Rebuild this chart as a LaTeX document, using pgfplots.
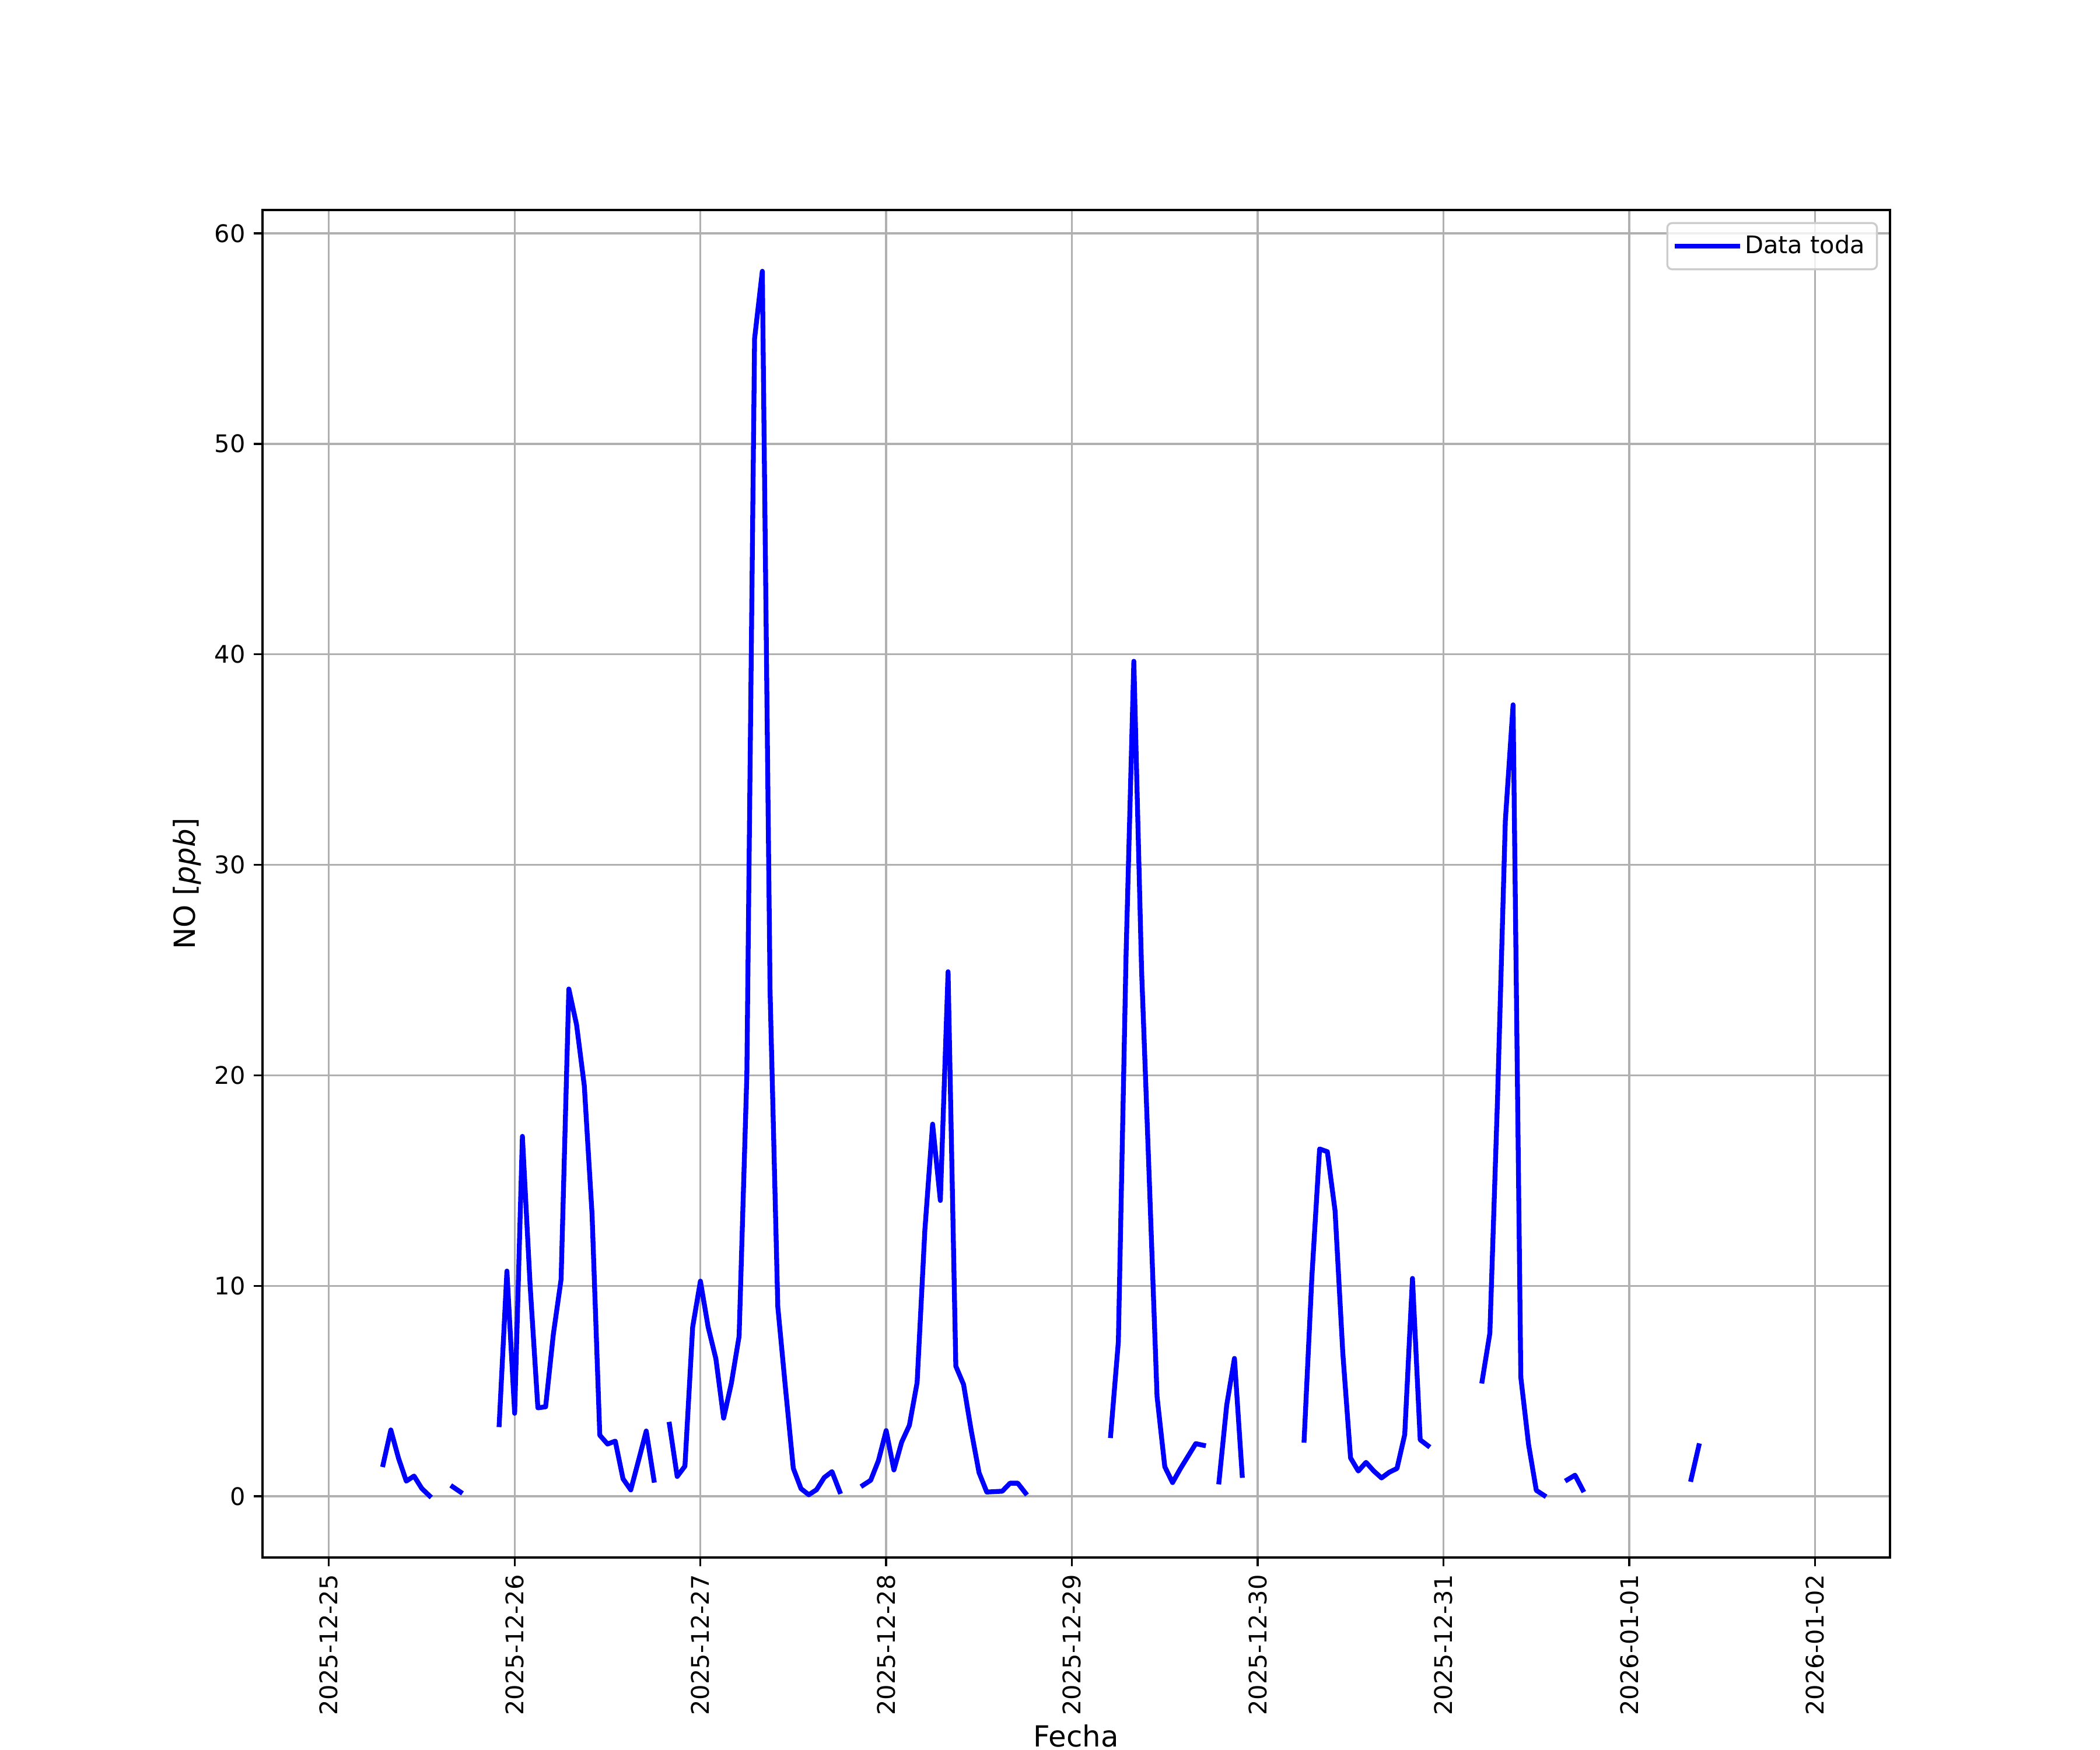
\documentclass[border=0pt]{standalone}
\usepackage{fontspec}
\setmainfont{DejaVu Sans}
\usepackage{pgfplots}
\pgfplotsset{compat=1.18}
\definecolor{gridgray}{HTML}{B0B0B0}
\definecolor{legframe}{HTML}{CCCCCC}
\begin{document}
\begin{tikzpicture}
\begin{axis}[
  name=ax, at={(0,0)}, anchor=south west,
  width=9.3in, height=7.7in, scale only axis,
  xmin=-8.58, xmax=201.7, ymin=-2.91, ymax=61.11,
  xtick={0,24,48,72,96,120,144,168,192},
  xticklabels={2025-12-25,2025-12-26,2025-12-27,2025-12-28,2025-12-29,2025-12-30,2025-12-31,2026-01-01,2026-01-02},
  ytick={0,10,20,30,40,50,60},
  grid=major,
  major grid style={gridgray, line width=0.8pt},
  axis line style={line width=0.8pt},
  tick style={black, line width=0.8pt},
  major tick length=3.5pt,
  tick align=outside,
  tick pos=left,
  unbounded coords=jump,
  /pgf/number format/assume math mode=true,
  tick label style={font=\fontsize{10}{12}\selectfont},
  xticklabel style={rotate=90, anchor=east},
  xlabel={Fecha},
  ylabel={NO [\textit{ppb}]},
  label style={font=\fontsize{12}{14}\selectfont},
  xlabel style={at={(axis description cs:0.5,-0.1325)}, anchor=center},
  ylabel style={at={(axis description cs:-0.0462,0.5)}, anchor=center},
  legend style={at={(1,1)}, anchor=north east, xshift=-5pt, yshift=-5pt,
    draw=legframe, line width=0.8pt, rounded corners=2pt, fill=white, fill opacity=0.8,
    text opacity=1, draw opacity=1, font=\fontsize{10}{12}\selectfont,
    inner xsep=3pt, inner ysep=3pt},
  legend cell align=left,
  legend image code/.code={\draw[#1] (0pt,0pt) -- (19pt,0pt); \path (0pt,0pt) -- (25pt,0pt);},
]
\addplot[blue, line width=2pt, line join=round, line cap=rect] coordinates {
(7,1.5) (8,3.15) (9,1.8) (10,0.72) (11,0.96) (12,0.37) (13,0.02)
(14.5,nan)
(16,0.45) (17,0.2)
(19,nan)
(22,3.4) (23,10.7) (24,3.94) (25,17.1) (26,10.0) (27,4.2) (28,4.25) (29,7.7) (30,10.3)
(31,24.1) (32,22.4) (33,19.5) (34,13.4) (35,2.9) (36,2.48) (37,2.62) (38,0.83) (39,0.3)
(40,1.69) (41,3.1) (42,0.76)
(43,nan)
(44,3.42) (45,0.94) (46,1.43) (47,8.04) (48,10.22) (49,8.04) (50,6.53) (51,3.71) (52,5.37)
(53,7.6) (54,20.0) (55,55.0) (56,58.2) (57,24.0) (58,9.0) (59,5.1) (60,1.33) (61,0.36)
(62,0.07) (63,0.31) (64,0.89) (65,1.17) (66,0.22)
(67.5,nan)
(69,0.52) (70,0.76) (71,1.69) (72,3.12) (73,1.25) (74,2.57) (75,3.37) (76,5.40) (77,12.64)
(78,17.68) (79,14.05) (80,24.92) (81,6.18) (82,5.31) (83,3.1) (84,1.12) (85,0.2) (86,0.22)
(87,0.24) (88,0.62) (89,0.62) (90,0.15)
(95,nan)
(101,2.88) (102,7.34) (103,25.8) (104,39.67) (105,25.0) (106,15.0) (107,4.74) (108,1.4)
(109,0.65) (110,1.3) (111,1.9) (112,2.5) (113,2.42)
(114,nan)
(115,0.68) (116,4.33) (117,6.55) (118,0.99)
(122,nan)
(126,2.66) (127,10.4) (128,16.5) (129,16.37) (130,13.56) (131,6.8) (132,1.82) (133,1.2)
(134,1.61) (135,1.2) (136,0.87) (137,1.14) (138,1.32) (139,2.93) (140,10.35) (141,2.68) (142,2.4)
(145,nan)
(149,5.47) (150,7.75) (151,19.0) (152,32.1) (153,37.6) (154,5.65) (155,2.46) (156,0.28) (157,0.04)
(158.5,nan)
(160,0.78) (161,1.0) (162,0.3)
(170,nan)
(176,0.8) (177,2.4)
};
\addlegendentry{Data toda}
\end{axis}
\pgfresetboundingbox
\path ([shift={(-1.5in,-1.1in)}]ax.south west) rectangle ([shift={(1.2in,1.2in)}]ax.north east);
\end{tikzpicture}
\end{document}
